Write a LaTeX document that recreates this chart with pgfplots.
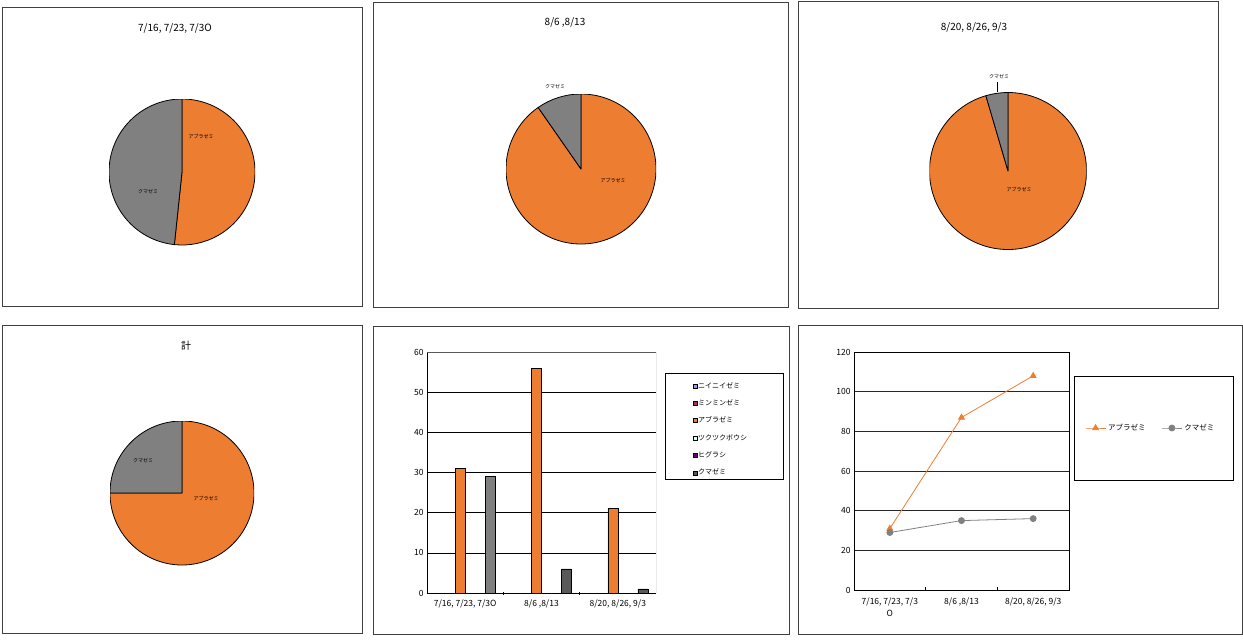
\documentclass[border=0pt]{standalone}
\usepackage{pgfplots}
\pgfplotsset{compat=1.18}
\usepackage{fontspec}
\setmainfont{Noto Sans CJK JP}

\definecolor{abura}{HTML}{ED7D31}
\definecolor{kuma}{HTML}{808080}
\definecolor{kumadk}{HTML}{595959}
\definecolor{niinii}{HTML}{9999FF}
\definecolor{minmin}{HTML}{993366}
\definecolor{tsuku}{HTML}{CCFFFF}
\definecolor{higu}{HTML}{660066}
\definecolor{frame}{HTML}{404040}

% two-slice pie: #1 = アブラゼミ, #2 = クマゼミ, #3 = radius (pt)
\newcommand{\twoslices}[3]{%
  \pgfmathsetmacro\cut{90-(#1/(#1+#2))*360}%
  \filldraw[fill=abura, draw=black, line width=0.8pt, line join=round]
    (axis cs:0,0) -- ++(90:#3pt) arc[start angle=90, end angle=\cut, radius=#3pt] -- cycle;
  \filldraw[fill=kuma, draw=black, line width=0.8pt, line join=round]
    (axis cs:0,0) -- ++(\cut:#3pt) arc[start angle=\cut, end angle=-270, radius=#3pt] -- cycle;
}
\pgfplotsset{
  pieaxis/.style={hide axis, scale only axis, anchor=center,
    xmin=-1, xmax=1, ymin=-1, ymax=1},
}
\newcommand{\ttl}{\fontsize{10}{12}\selectfont}
\newcommand{\plab}{\fontsize{5}{6}\selectfont}

\begin{document}
\begin{tikzpicture}
\useasboundingbox (0pt,0pt) rectangle (1243pt,-641pt);

% panel frames
\draw[frame, line width=0.9pt] (2pt,-7pt) rectangle (362pt,-306pt);
\draw[frame, line width=0.9pt] (373pt,-2pt) rectangle (788pt,-307pt);
\draw[frame, line width=0.9pt] (798pt,-1pt) rectangle (1218pt,-308pt);
\draw[frame, line width=0.9pt] (2pt,-325pt) rectangle (362pt,-633pt);
\draw[frame, line width=0.9pt] (373pt,-326pt) rectangle (789pt,-634pt);
\draw[frame, line width=0.9pt] (798pt,-325pt) rectangle (1242pt,-634pt);

% ---- pie 1
\begin{axis}[pieaxis, at={(182pt,-172pt)}, width=146pt, height=146pt]
\twoslices{31}{29}{73}
\end{axis}
\node[font=\ttl] at (175pt,-28pt) {7/16, 7/23, 7/3O};
\node[font=\plab] at (201pt,-136pt) {アブラゼミ};
\node[font=\plab] at (148pt,-192pt) {クマゼミ};

% ---- pie 2
\begin{axis}[pieaxis, at={(581pt,-169pt)}, width=150pt, height=150pt]
\twoslices{56}{6}{75}
\end{axis}
\node[font=\ttl] at (565pt,-22pt) {8/6 ,8/13};
\node[font=\plab] at (555pt,-87pt) {クマゼミ};
\node[font=\plab] at (613pt,-180pt) {アブラゼミ};

% ---- pie 3
\begin{axis}[pieaxis, at={(1008pt,-171pt)}, width=157pt, height=157pt]
\twoslices{21}{1}{78.5}
\end{axis}
\node[font=\ttl] at (974pt,-27pt) {8/20, 8/26, 9/3};
\node[font=\plab] at (999pt,-77pt) {クマゼミ};
\draw[black, line width=0.6pt] (997pt,-82pt) -- (997pt,-92pt);
\node[font=\plab] at (1019pt,-189pt) {アブラゼミ};

% ---- pie 4 (total)
\begin{axis}[pieaxis, at={(182pt,-493pt)}, width=144pt, height=144pt]
\twoslices{108}{36}{72}
\end{axis}
\node[font=\ttl] at (186pt,-346pt) {計};
\node[font=\plab] at (143pt,-461pt) {クマゼミ};
\node[font=\plab] at (206pt,-498pt) {アブラゼミ};

% ---- bar chart
\begin{axis}[at={(427pt,-593pt)}, anchor=south west, scale only axis,
  width=229pt, height=241pt,
  ybar, bar width=10pt,
  xmin=-0.5, xmax=2.5, ymin=0, ymax=60, ytick={0,10,...,60},
  xtick={0,1,2},
  xticklabels={{7/16, 7/23, 7/3O},{8/6 ,8/13},{8/20, 8/26, 9/3}},
  x tick label style={yshift=-3pt},
  minor xtick={0.5,1.5},
  major tick length=0pt, minor tick length=3pt, tick align=outside,
  axis lines=left, axis line style={-, black, line width=0.8pt},
  every tick/.style={black, line width=0.6pt},
  ymajorgrids, grid style={black, line width=0.6pt},
  tick label style={font=\fontsize{8.5}{10}\selectfont},
  /pgf/number format/assume math mode=true,
  legend style={at={(1.1616,0.878)}, anchor=north west, draw=none, fill=none,
    inner sep=0pt, row sep=8.8pt, font=\fontsize{7}{8}\selectfont,
    nodes={inner sep=0.6pt}},
  legend cell align=left,
  legend image code/.code={\draw[#1, draw=black, line width=0.4pt] (0pt,-2pt) rectangle (4pt,2pt);},
]
\addplot[fill=niinii, draw=black, line width=0.6pt, bar shift=-25pt] coordinates {(0,0) (1,0) (2,0)};
\addplot[fill=minmin, draw=black, line width=0.6pt, bar shift=-15pt] coordinates {(0,0) (1,0) (2,0)};
\addplot[fill=abura, draw=black, line width=0.6pt, bar shift=-5pt] coordinates {(0,31) (1,56) (2,21)};
\addplot[fill=tsuku, draw=black, line width=0.6pt, bar shift=5pt] coordinates {(0,0) (1,0) (2,0)};
\addplot[fill=higu, draw=black, line width=0.6pt, bar shift=15pt] coordinates {(0,0) (1,0) (2,0)};
\addplot[fill=kumadk, draw=black, line width=0.6pt, bar shift=25pt] coordinates {(1,6) (2,1)};
\addplot[fill=kuma, draw=black, line width=0.6pt, bar shift=25pt, forget plot] coordinates {(0,29)};
\legend{ニイニイゼミ, ミンミンゼミ, アブラゼミ, ツクツクボウシ, ヒグラシ, クマゼミ}
\draw[black!65, line width=0.8pt] (rel axis cs:0,1) -- (rel axis cs:1,1) -- (rel axis cs:1,0);
\end{axis}
\draw[black, line width=0.8pt] (665pt,-373pt) rectangle (783pt,-479pt);

% ---- cumulative line chart
\begin{axis}[at={(854pt,-590pt)}, anchor=south west, scale only axis,
  width=215pt, height=238pt,
  xmin=-0.5, xmax=2.5, ymin=0, ymax=120, ytick={0,20,...,120},
  xtick={0,1,2},
  xticklabels={{7/16, 7/23, 7/3\\O},{8/6 ,8/13},{8/20, 8/26, 9/3}},
  x tick label style={align=center, yshift=-4pt},
  minor xtick={0.5,1.5},
  xtick pos=bottom, ytick pos=left,
  major tick length=0pt, minor tick length=3.5pt, tick align=inside,
  axis line style={black, line width=0.9pt},
  every tick/.style={black, line width=0.6pt},
  ymajorgrids, grid style={black!85, line width=0.7pt},
  tick label style={font=\fontsize{8.5}{12}\selectfont},
  /pgf/number format/assume math mode=true,
  legend columns=2,
  legend style={at={(1.0744,0.6807)}, anchor=west, draw=none, fill=none,
    inner sep=0pt, font=\fontsize{7.5}{9}\selectfont,
    /tikz/column 2/.style={column sep=14pt}},
  legend image code/.code={\draw[mark repeat=2, mark phase=2, #1]
    plot coordinates {(0pt,0pt) (10pt,0pt) (20pt,0pt)};},
]
\addplot[abura, line width=0.8pt, mark=triangle*, mark size=3.3pt,
  mark options={fill=abura, solid}] coordinates {(0,31) (1,87) (2,108)};
\addplot[kuma, line width=0.8pt, mark=*, mark size=3pt,
  mark options={fill=kuma, solid}] coordinates {(0,29) (1,35) (2,36)};
\legend{アブラゼミ, クマゼミ}
\end{axis}
\draw[black, line width=0.8pt] (1074pt,-376pt) rectangle (1233pt,-480pt);

\end{tikzpicture}
\end{document}
